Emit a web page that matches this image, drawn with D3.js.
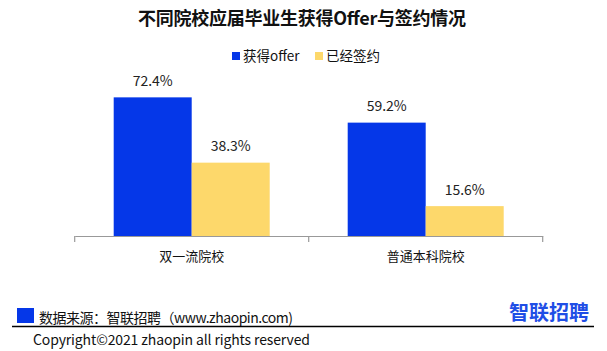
<!DOCTYPE html>
<html><head><meta charset="utf-8">
<script src="https://cdn.jsdelivr.net/npm/d3@7"></script>
<style>
html,body{margin:0;padding:0;background:#fff;}
svg{display:block;font-family:"Noto Sans CJK SC","Noto Sans",sans-serif;}
</style></head>
<body>
<svg id="c" width="607" height="351"></svg>
<script>
const categories = ["双一流院校", "普通本科院校"];
const seriesNames = ["获得offer", "已经签约"];
const offerValues = [72.4, 59.2];
const signedValues = [38.3, 15.6];
const seriesColors = ["#0537E8", "#FDD86B"];

const svg = d3.select("#c");
const rows = categories.map((c, i) => ({cat: c, vals: [offerValues[i], signedValues[i]]}));

const x0 = d3.scaleBand().domain(categories).range([74.7, 542.7]).padding(0);
const x1 = d3.scaleBand().domain(seriesNames).range([0, x0.bandwidth()]).paddingInner(0).paddingOuter(0.5);
const y = d3.scaleLinear().domain([0, 100]).range([236, 44.5]);

// title
svg.append("text").attr("x", 302).attr("y", 25).attr("text-anchor", "middle")
  .attr("font-size", 18).attr("font-weight", "bold").attr("fill", "#111")
  .attr("textLength", 328).text("不同院校应届毕业生获得Offer与签约情况");

// legend
const legendX = [232, 315];
seriesNames.forEach((s, i) => {
  svg.append("rect").attr("x", legendX[i]).attr("y", 52).attr("width", 8).attr("height", 8).attr("fill", seriesColors[i]);
  svg.append("text").attr("x", legendX[i] + 11).attr("y", 61).attr("font-size", 13.5).attr("fill", "#111").text(s);
});

// bars
const g = svg.append("g");
rows.forEach(r => {
  const gg = g.append("g").attr("transform", `translate(${x0(r.cat)},0)`);
  r.vals.forEach((v, j) => {
    gg.append("rect").attr("x", x1(seriesNames[j])).attr("y", y(v))
      .attr("width", x1.bandwidth()).attr("height", y(0) - y(v)).attr("fill", seriesColors[j]);
    gg.append("text").attr("x", x1(seriesNames[j]) + x1.bandwidth() / 2).attr("y", y(v) - 11.5)
      .attr("text-anchor", "middle").attr("font-size", 14).attr("fill", "#222").text(v.toFixed(1) + "%");
  });
});

// axis
const axis = d3.axisBottom(x0).tickSize(0).tickPadding(16);
const ag = svg.append("g").attr("transform", "translate(0,236)").call(axis);
ag.select(".domain").attr("stroke", "#999").attr("stroke-width", 1.2);
ag.selectAll(".tick text").attr("font-size", 13).attr("fill", "#111").attr("font-family", '"Noto Sans CJK SC",sans-serif');
const bounds = [x0.range()[0]].concat(categories.map(c => x0(c) + x0.bandwidth()));
ag.selectAll("line.sep").data(bounds).enter().append("line").attr("class", "sep")
  .attr("x1", d => d).attr("x2", d => d).attr("y1", 0).attr("y2", 6).attr("stroke", "#999").attr("stroke-width", 1.2);

// footer
svg.append("rect").attr("x", 17).attr("y", 308).attr("width", 17).attr("height", 15).attr("fill", "#0537E8");
svg.append("text").attr("x", 39).attr("y", 323).attr("font-size", 14).attr("fill", "#111")
  .attr("textLength", 254).text("数据来源：智联招聘（www.zhaopin.com)");
svg.append("line").attr("x1", 12).attr("x2", 594).attr("y1", 326.5).attr("y2", 326.5).attr("stroke", "#000").attr("stroke-width", 1.5);
svg.append("text").attr("x", 33).attr("y", 345).attr("font-size", 14).attr("fill", "#111")
  .attr("textLength", 277).text("Copyright©2021 zhaopin all rights reserved");
svg.append("text").attr("x", 509).attr("y", 320).attr("font-size", 20).attr("font-weight", "bold").attr("fill", "#1F4EE6")
  .attr("textLength", 80).text("智联招聘");
</script>
</body></html>
